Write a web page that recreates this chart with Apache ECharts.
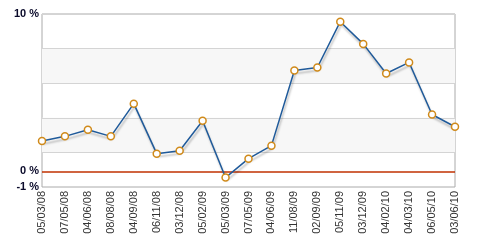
<!DOCTYPE html>
<html><head><meta charset="utf-8">
<script src="https://cdn.jsdelivr.net/npm/echarts@6/dist/echarts.min.js"></script>
<style>html,body{margin:0;padding:0;background:#fff}#c{width:486px;height:242px}</style>
</head><body><div id="c"></div>
<script>
const categories = ["05/03/08","07/05/08","04/06/08","08/08/08","04/09/08","06/11/08","03/12/08","05/02/09","05/03/09","07/05/09","04/06/09","11/08/09","02/09/09","05/11/09","03/12/09","04/02/10","04/03/10","06/05/10","03/06/10"];
const values = [1.92,2.22,2.64,2.22,4.30,1.12,1.31,3.21,-0.40,0.80,1.63,6.41,6.60,9.51,8.10,6.22,6.92,3.61,2.83];
const yLabels = [10,0,-1];

const chart = echarts.init(document.getElementById('c'));
const fontFam = '"Liberation Sans", Arial, sans-serif';
chart.setOption({
  animation:false,
  grid:{left:42,right:31,top:14,bottom:55,outerBoundsMode:'none',containLabel:false,show:true,borderColor:'#aaaaaa',borderWidth:1,backgroundColor:'transparent'},
  xAxis:{type:'category',data:categories,boundaryGap:false,
    axisLine:{show:false},axisTick:{show:false},
    axisLabel:{rotate:90,interval:0,fontFamily:fontFam,fontSize:11,color:'#333333',margin:4},
    splitLine:{show:false}},
  yAxis:[
    {type:'value',min:-1,max:10,interval:2.2,position:'left',
     axisLine:{show:false},axisTick:{show:false},axisLabel:{show:false},
     splitLine:{show:true,lineStyle:{color:'#d4d4d4',width:1}},
     splitArea:{show:true,areaStyle:{color:['rgba(0,0,0,0)','#f7f7f7']}}},
    {type:'value',min:-1,max:10,interval:1,position:'left',
     axisLine:{show:false},axisTick:{show:false},splitLine:{show:false},
     axisLabel:{fontFamily:fontFam,fontSize:11,fontWeight:'bold',color:'#0a0a2a',margin:3,
       formatter:v=>yLabels.indexOf(v)>=0?v+' %':''}}
  ],
  series:[{type:'line',data:values,yAxisIndex:0,
    symbol:'circle',symbolSize:7,showAllSymbol:true,
    itemStyle:{color:'#ffffff',borderColor:'#d08a1a',borderWidth:1.5},
    lineStyle:{color:'#1f5a9a',width:1.5,shadowColor:'rgba(0,0,0,0.25)',shadowBlur:2,shadowOffsetX:1,shadowOffsetY:3},
    markLine:{silent:true,symbol:'none',label:{show:false},
      lineStyle:{color:'#c03000',width:1.5,type:'solid'},data:[{yAxis:0}]},
    z:5}]
});
</script></body></html>
